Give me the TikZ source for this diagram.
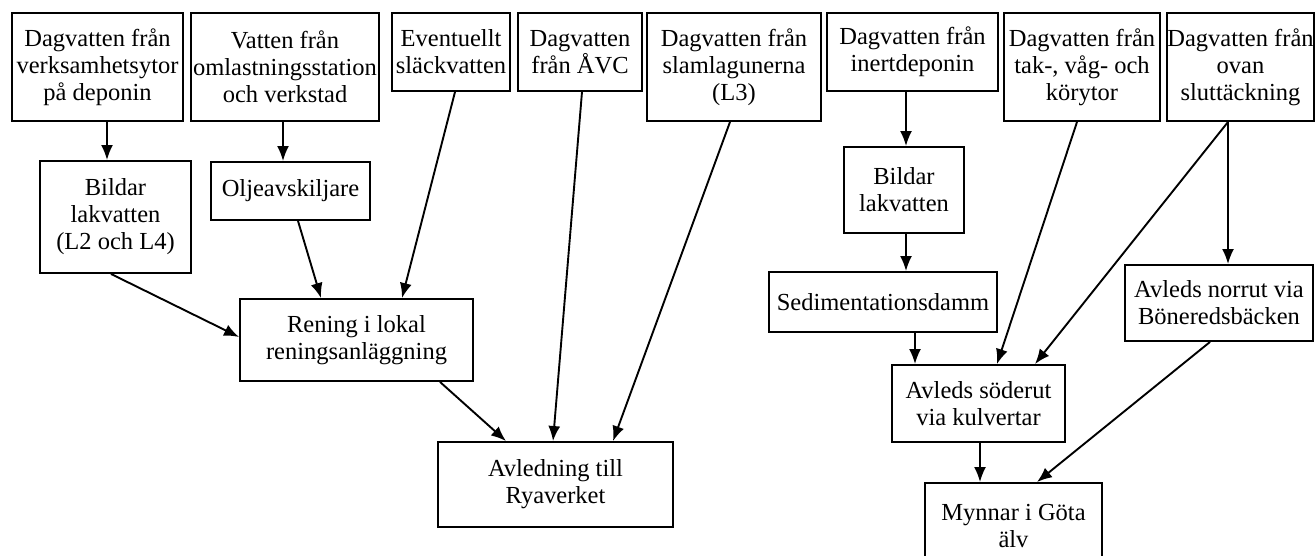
\documentclass[tikz,border=0pt]{standalone}
\usepackage{fontspec}
\setmainfont{Liberation Serif}
\usetikzlibrary{arrows.meta}
\usetikzlibrary{calc}
\tikzset{>={Latex[length=15pt,width=12pt]}}
\tikzset{
    flowbox/.style={draw, line width=1.9pt, align=center, inner sep=0pt,
        font=\fontsize{24.5}{27}\selectfont},
    flow/.style={->, line width=1.9pt},
}

\begin{document}
\begin{tikzpicture}[x=1pt, y=-1pt]
		\useasboundingbox (0,0) rectangle (1315,556);
		\clip (0,0) rectangle (1315,556);
		% sources
		\node[flowbox, minimum width=171, minimum height=108] (verks) at (97.5,67) {Dagvatten från\\verksamhetsytor\\på deponin};
		\node[flowbox, minimum width=188, minimum height=108] (omlast) at (285,67) {Vatten från\\omlastningsstation\\och verkstad};
		\node[flowbox, minimum width=118, minimum height=78] (slack) at (451,52) {Eventuellt\\släckvatten};
		\node[flowbox, minimum width=124, minimum height=78] (avc) at (580,52) {Dagvatten\\från ÅVC};
		\node[flowbox, minimum width=174, minimum height=108] (slam) at (734,67) {Dagvatten från\\slamlagunerna\\(L3)};
		\node[flowbox, minimum width=171, minimum height=78] (inert) at (912.5,52) {Dagvatten från\\inertdeponin};
		\node[flowbox, minimum width=156, minimum height=108] (tak) at (1082,67) {Dagvatten från\\tak-, våg- och\\körytor};
		\node[flowbox, minimum width=145, minimum height=108] (ovan) at (1240.5,67) {Dagvatten från\\ovan\\sluttäckning};
		% left branch
		\node[flowbox, minimum width=151, minimum height=112] (lak1) at (115.5,217) {Bildar\\lakvatten\\(L2 och L4)};
		\node[flowbox, minimum width=159, minimum height=58] (olje) at (290.5,191) {Oljeavskiljare};
		\node[flowbox, minimum width=233, minimum height=82] (rening) at (356.5,340) {Rening i lokal\\reningsanläggning};
		\node[flowbox, minimum width=235, minimum height=85] (rya) at (555.5,484.5) {Avledning till\\Ryaverket};
		% right branch
		\node[flowbox, minimum width=120, minimum height=86] (lak2) at (904,190) {Bildar\\lakvatten};
		\node[flowbox, minimum width=228, minimum height=60] (sed) at (883,302) {Sedimentationsdamm};
		\node[flowbox, minimum width=188, minimum height=76] (norrut) at (1219,303) {Avleds norrut via\\Böneredsbäcken};
		\node[flowbox, minimum width=173, minimum height=77] (soder) at (978.5,403.5) {Avleds söderut\\via kulvertar};
		\node[flowbox, minimum width=177, minimum height=87] (gota) at (1013.5,526.5) {Mynnar i Göta\\älv};
		\draw[flow] (verks.south -| 107,0) -- (lak1.north -| 107,0);
		\draw[flow] (omlast.south -| 283,0) -- (olje.north -| 283,0);
		\draw[flow] (slack.south -| 455,0) -- (rening.north -| 402,0);
		\draw[flow] (olje.south -| 298,0) -- (rening.north -| 321,0);
		\draw[flow] (lak1.south -| 111,0) -- ($(rening.west)+(0,-3)$);
		\draw[flow] (rening.south -| 440,0) -- (rya.north -| 506,0);
		\draw[flow] (avc.south -| 582,0) -- (rya.north -| 553,0);
		\draw[flow] (slam.south -| 730,0) -- (rya.north -| 613,0);
		\draw[flow] (inert.south -| 906,0) -- (lak2.north -| 906,0);
		\draw[flow] (lak2.south -| 906,0) -- (sed.north -| 906,0);
		\draw[flow] (sed.south -| 915,0) -- (soder.north -| 915,0);
		\draw[flow] (tak.south -| 1077,0) -- (soder.north -| 997,0);
		\draw[flow] (ovan.south -| 1228,0) -- (soder.north -| 1035,0);
		\draw[flow] (ovan.south -| 1228,0) -- (norrut.north -| 1228,0);
		\draw[flow] (soder.south -| 980,0) -- (gota.north -| 980,0);
		\draw[flow] (norrut.south -| 1210,0) -- (gota.north -| 1037,0);
	\end{tikzpicture}
\end{document}
